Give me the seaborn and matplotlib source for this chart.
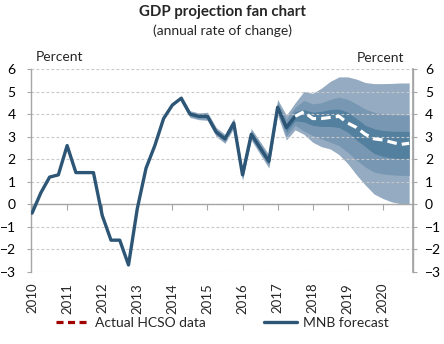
import numpy as np
import pandas as pd
import matplotlib
matplotlib.use("Agg")
import matplotlib.pyplot as plt
from matplotlib.lines import Line2D
import seaborn as sns

# ---------------- data ----------------
years = list(range(2010, 2021))
quarters = [f"{y}Q{q}" for y in years for q in range(1, 5)]  # 2010Q1 .. 2020Q4

# actual GDP growth (annual rate of change, %), 2010Q1 .. 2017Q3
gdp_history = [-0.4, 0.5, 1.2, 1.3, 2.6, 1.4, 1.4, 1.4, -0.5, -1.6, -1.6, -2.7,
               -0.2, 1.6, 2.6, 3.8, 4.4, 4.7, 4.0, 3.9, 3.9, 3.2, 2.9, 3.6,
               1.3, 3.1, 2.5, 1.9, 4.3, 3.4, 3.9]

# central projection, 2017Q3 .. 2020Q4
forecast_start = "2017Q3"
gdp_forecast = [3.9, 4.1, 3.8, 3.8, 3.85, 3.9, 3.6, 3.4, 3.1, 2.9, 2.85, 2.75, 2.65, 2.7]

# fan bands, 2014Q2 .. 2020Q4
fan_start = "2014Q2"
outer_lo = [4.55, 3.85, 3.75, 3.72, 3.0, 2.7, 3.38, 1.05, 2.84, 2.22, 1.6, 3.95, 2.85,
            3.3, 3.1, 2.75, 2.55, 2.45, 2.2, 1.8, 1.3, 0.85, 0.45, 0.25, 0.1, 0.02, 0.0]
outer_hi = [4.85, 4.15, 4.05, 4.08, 3.4, 3.1, 3.82, 1.55, 3.36, 2.78, 2.2, 4.65, 3.95,
            4.5, 5.0, 4.92, 5.15, 5.45, 5.65, 5.65, 5.55, 5.4, 5.35, 5.35, 5.36, 5.38, 5.38]
mid_lo = [4.6, 3.9, 3.8, 3.78, 3.07, 2.77, 3.45, 1.13, 2.93, 2.31, 1.7, 4.07, 3.03,
          3.5, 3.25, 3.05, 2.9, 2.75, 2.6, 2.3, 1.95, 1.65, 1.42, 1.34, 1.3, 1.28, 1.27]
mid_hi = [4.8, 4.1, 4.0, 4.02, 3.33, 3.03, 3.75, 1.47, 3.27, 2.69, 2.1, 4.53, 3.77,
          4.3, 4.6, 4.45, 4.5, 4.65, 4.75, 4.65, 4.45, 4.22, 4.08, 4.0, 3.97, 3.96, 3.96]
inner_lo = [4.65, 3.95, 3.85, 3.84, 3.13, 2.83, 3.52, 1.22, 3.01, 2.4, 1.8, 4.18, 3.22,
            3.7, 3.65, 3.5, 3.45, 3.45, 3.4, 3.2, 2.85, 2.55, 2.25, 2.12, 2.05, 2.02, 2.0]
inner_hi = [4.75, 4.05, 3.95, 3.96, 3.27, 2.97, 3.68, 1.38, 3.19, 2.6, 2.0, 4.42, 3.58,
            4.1, 4.2, 4.08, 4.12, 4.2, 4.22, 4.08, 3.8, 3.5, 3.35, 3.27, 3.24, 3.23, 3.23]

y_ticks = list(range(-3, 7))

# ---------------- helpers ----------------
def qpos(label):
    y, q = label.split("Q")
    return int(y) + (int(q) - 1) / 4.0

xq = np.array([qpos(q) for q in quarters])
i_fc = quarters.index(forecast_start)
i_fan = quarters.index(fan_start)

hist_df = pd.DataFrame({"x": xq[:len(gdp_history)], "v": gdp_history})
fc_df = pd.DataFrame({"x": xq[i_fc:i_fc + len(gdp_forecast)], "v": gdp_forecast})
x_fan = xq[i_fan:i_fan + len(outer_lo)]

# ---------------- style ----------------
sns.set_theme(style="white")
plt.rcParams["font.family"] = ["Lato", "DejaVu Sans"]

line_col = "#2d5676"
c_outer, c_mid, c_inner = "#95abc1", "#7897b2", "#53809f"
grid_col = "#c8c8c8"
axis_col = "#a6a6a6"

fig = plt.figure(figsize=(4.44, 3.44), dpi=100)
ax = fig.add_axes([31 / 444, 1 - 271.7 / 344, (413 - 31) / 444, (271.7 - 69) / 344])

ax.fill_between(x_fan, outer_lo, outer_hi, color=c_outer, lw=0, zorder=1)
ax.fill_between(x_fan, mid_lo, mid_hi, color=c_mid, lw=0, zorder=1.1)
ax.fill_between(x_fan, inner_lo, inner_hi, color=c_inner, lw=0, zorder=1.2)

sns.lineplot(data=hist_df, x="x", y="v", ax=ax, color=line_col, lw=2.4, zorder=3,
             sort=False, estimator=None)
sns.lineplot(data=fc_df, x="x", y="v", ax=ax, color="white", lw=2.3, zorder=4,
             sort=False, estimator=None, dashes=False, linestyle=(0, (3, 1.6)))

ax.set_xlim(2010 - 0.03, 2020.86)
ax.set_ylim(-3, 6)
ax.set_xlabel("")
ax.set_ylabel("")

# grid
ax.set_axisbelow("line")
ax.set_yticks(y_ticks)
ax.yaxis.grid(True, color=grid_col, lw=0.8, linestyle=(0, (2.5, 2)))
ax.xaxis.grid(False)

# spines
ax.spines["top"].set_visible(False)
ax.spines["bottom"].set_position(("data", 0))
for s in ["bottom", "left", "right"]:
    ax.spines[s].set_color(axis_col)
    ax.spines[s].set_linewidth(1.0)

ax.set_xticks(years)
ax.tick_params(axis="x", direction="out", length=4, width=0.8, color=axis_col,
               labelbottom=False, bottom=True)
ax.tick_params(axis="y", direction="out", length=3, width=0.8, color=axis_col,
               left=True, labelleft=True, pad=8, labelsize=10, labelcolor="#000000")

ax2 = ax.twinx()
ax2.set_ylim(-3, 6)
ax2.set_yticks(y_ticks)
ax2.tick_params(axis="y", direction="out", length=3, width=0.8, color=axis_col,
                pad=5.5, labelsize=10, labelcolor="#000000")
for s in ["top", "bottom", "left"]:
    ax2.spines[s].set_visible(False)
ax2.spines["right"].set_color(axis_col)
ax2.grid(False)

sec = ax.secondary_xaxis(0)
sec.set_xticks(years)
sec.set_xticklabels([str(y) for y in years], rotation=90, fontsize=9.5)
sec.tick_params(axis="x", length=0, pad=8)
sec.spines["bottom"].set_visible(False)

# texts
fig.text(0.5, 1 - 12 / 344, "GDP projection fan chart", ha="center", va="center",
         fontsize=10.8, fontweight="bold")
fig.text(0.5, 1 - 31 / 344, "(annual rate of change)", ha="center", va="center",
         fontsize=10)
fig.text(36 / 444, 1 - 57 / 344, "Percent", ha="left", va="center", fontsize=10)
fig.text(404 / 444, 1 - 58 / 344, "Percent", ha="right", va="center", fontsize=10)

handles = [Line2D([], [], color="#a00000", lw=2.3, linestyle=(0, (2.2, 1.4))),
           Line2D([], [], color=line_col, lw=2.4)]
fig.legend(handles, ["Actual HCSO data", "MNB forecast"], loc="center",
           bbox_to_anchor=(0.5, 1 - 323 / 344), ncol=2, frameon=False, fontsize=10,
           handlelength=2.4, handletextpad=0.4, columnspacing=4.2)

fig.savefig("out.png", dpi=100)
